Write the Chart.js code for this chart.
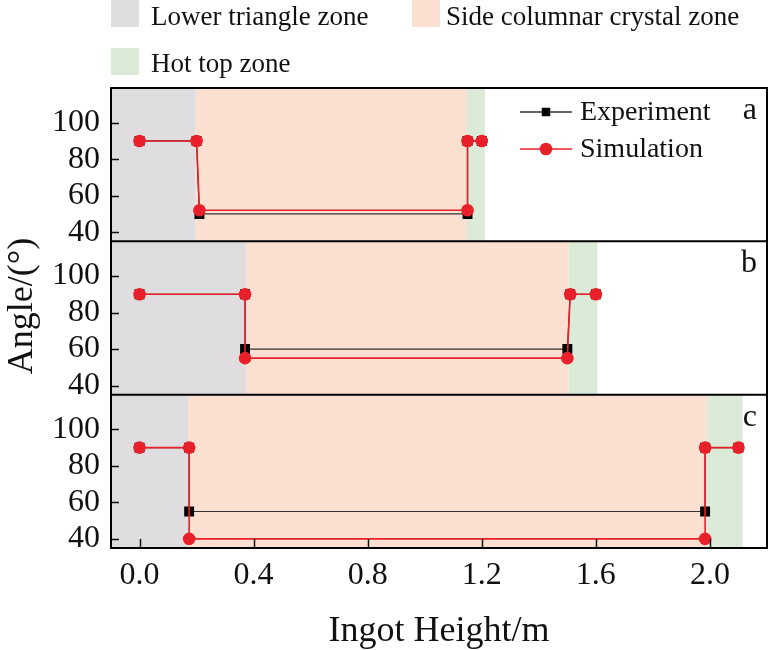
<!DOCTYPE html>
<html>
<head>
<meta charset="utf-8">
<script src="https://cdn.jsdelivr.net/npm/chart.js@4.4.0/dist/chart.umd.min.js"></script>
<style>
  html, body { margin: 0; padding: 0; background: #fff; }
</style>
</head>
<body>
<canvas id="chart" width="774" height="650"></canvas>
<script>
// Tick labels
const heightTicks = [0, 0.4, 0.8, 1.2, 1.6, 2.0];
const angleTicks = [40, 60, 80, 100];
const panelLabels = ['a', 'b', 'c'];

// Panel a
const expHeightA = [0, 0.2, 0.21, 1.15, 1.15, 1.2];
const expAngleA = [90, 90, 50, 50, 90, 90];
const simHeightA = [0, 0.2, 0.21, 1.15, 1.15, 1.2];
const simAngleA = [90, 90, 52, 52, 90, 90];

// Panel b
const expHeightB = [0, 0.37, 0.37, 1.5, 1.51, 1.6];
const expAngleB = [90, 90, 60, 60, 90, 90];
const simHeightB = [0, 0.37, 0.37, 1.5, 1.51, 1.6];
const simAngleB = [90, 90, 55, 55, 90, 90];

// Panel c
const expHeightC = [0, 0.174, 0.174, 1.983, 1.983, 2.1];
const expAngleC = [90, 90, 55, 55, 90, 90];
const simHeightC = [0, 0.174, 0.174, 1.983, 1.983, 2.1];
const simAngleC = [90, 90, 40, 40, 90, 90];

// Zones (end of each zone in m, per panel a, b, c)
const zoneNames = ['Lower triangle zone', 'Side columnar crystal zone', 'Hot top zone'];
const zoneColors = ['#dfdddf', '#fbdfd0', '#dbebd7'];
const lowerEnd = [0.197, 0.375, 0.17];
const sideEnd = [1.148, 1.504, 1.99];
const hotEnd = [1.211, 1.605, 2.114];

const serif = 'Liberation Serif';
const red = '#e8202a';

function toPoints(xs, ys) {
    return xs.map((x, i) => ({ x: x, y: ys[i] }));
}

const expSets = [[expHeightA, expAngleA], [expHeightB, expAngleB], [expHeightC, expAngleC]];
const simSets = [[simHeightA, simAngleA], [simHeightB, simAngleB], [simHeightC, simAngleC]];

const datasets = [];
panelLabels.forEach((p, i) => {
    datasets.push({
        label: 'Simulation',
        data: toPoints(simSets[i][0], simSets[i][1]),
        yAxisID: 'y' + p,
        order: 0,
        borderColor: red,
        backgroundColor: red,
        borderWidth: 1.6,
        pointStyle: 'circle',
        pointRadius: 6.3,
        pointBorderWidth: 0,
        tension: 0
    });
    datasets.push({
        label: 'Experiment',
        data: toPoints(expSets[i][0], expSets[i][1]),
        yAxisID: 'y' + p,
        order: 1,
        borderColor: '#333',
        backgroundColor: '#000',
        borderWidth: 1.2,
        pointStyle: 'rect',
        pointRadius: 7,
        pointBorderWidth: 0,
        tension: 0
    });
});

function angleScale() {
    return {
        type: 'linear',
        position: 'left',
        stack: 'panels',
        stackWeight: 1,
        min: 35,
        max: 119,
        grid: { display: false, drawTicks: false },
        border: { display: false },
        afterBuildTicks: s => { s.ticks = angleTicks.map(v => ({ value: v })); },
        afterFit: s => { s.width = 111; },
        ticks: { font: { family: serif, size: 32 }, color: '#111', padding: 11, autoSkip: false }
    };
}

// Zones behind the lines, frame/ticks/legends on top
const zonePlugin = {
    id: 'zones',
    beforeDatasetsDraw(chart) {
        const ctx = chart.ctx;
        const x = chart.scales.x;
        const area = chart.chartArea;
        panelLabels.forEach((p, i) => {
            const s = chart.scales['y' + p];
            const edges = [area.left, x.getPixelForValue(lowerEnd[i]), x.getPixelForValue(sideEnd[i]), x.getPixelForValue(hotEnd[i])];
            for (let k = 0; k < 3; k++) {
                ctx.fillStyle = zoneColors[k];
                ctx.fillRect(edges[k], s.top, edges[k + 1] - edges[k], s.bottom - s.top);
            }
        });
    },
    afterDatasetsDraw(chart) {
        const ctx = chart.ctx;
        const area = chart.chartArea;
        const x = chart.scales.x;
        ctx.save();
        ctx.strokeStyle = '#111';
        ctx.lineWidth = 1.5;
        // inner ticks
        panelLabels.forEach(p => {
            const s = chart.scales['y' + p];
            angleTicks.forEach(v => {
                const y = Math.round(s.getPixelForValue(v)) + 0.5;
                ctx.beginPath();
                ctx.moveTo(area.left, y);
                ctx.lineTo(area.left + 8, y);
                ctx.stroke();
            });
        });
        heightTicks.forEach(v => {
            const px = Math.round(x.getPixelForValue(v)) + 0.5;
            ctx.beginPath();
            ctx.moveTo(px, area.bottom);
            ctx.lineTo(px, area.bottom - 9);
            ctx.stroke();
        });
        // frame + panel separators
        ctx.lineWidth = 2;
        ctx.strokeStyle = '#000';
        ctx.strokeRect(area.left, area.top, area.right - area.left, area.bottom - area.top);
        ['yb', 'yc'].forEach(id => {
            const t = chart.scales[id].top;
            ctx.beginPath();
            ctx.moveTo(area.left, t);
            ctx.lineTo(area.right, t);
            ctx.stroke();
        });

        // panel letters
        ctx.fillStyle = '#111';
        ctx.font = '32px ' + serif;
        ctx.textAlign = 'right';
        ctx.textBaseline = 'alphabetic';
        panelLabels.forEach(p => {
            const s = chart.scales['y' + p];
            ctx.fillText(p, area.right - 10, s.top + 31);
        });

        // series legend inside panel a
        const lx = area.right - 247;
        const rows = [
            { name: 'Experiment', y: area.top + 24, color: '#333', fill: '#000', style: 'rect', r: 6 },
            { name: 'Simulation', y: area.top + 61, color: red, fill: red, style: 'circle', r: 6.3 }
        ];
        rows.forEach(row => {
            ctx.strokeStyle = row.color;
            ctx.lineWidth = 1.5;
            ctx.beginPath();
            ctx.moveTo(lx, row.y);
            ctx.lineTo(lx + 52, row.y);
            ctx.stroke();
            ctx.fillStyle = row.fill;
            Chart.helpers.drawPoint(ctx, { pointStyle: row.style, radius: row.r, borderWidth: 0 }, lx + 26, row.y);
            ctx.fillStyle = '#111';
            ctx.font = '28px ' + serif;
            ctx.textAlign = 'left';
            ctx.textBaseline = 'middle';
            ctx.fillText(row.name, lx + 60, row.y + 1);
        });

        // zone legend on top
        const items = [
            { x: 111, y: 0, tx: 151, ty: 25 },
            { x: 412, y: 0, tx: 446, ty: 25 },
            { x: 111, y: 48, tx: 151, ty: 72 }
        ];
        items.forEach((it, k) => {
            ctx.fillStyle = zoneColors[k];
            ctx.fillRect(it.x, it.y, 28, 27);
            ctx.fillStyle = '#111';
            ctx.font = '27px ' + serif;
            ctx.textAlign = 'left';
            ctx.textBaseline = 'alphabetic';
            ctx.fillText(zoneNames[k], it.tx, it.ty);
        });

        // axis titles
        ctx.font = '36px ' + serif;
        ctx.textAlign = 'center';
        ctx.textBaseline = 'alphabetic';
        ctx.fillText('Ingot Height/m', (area.left + area.right) / 2, 641);
        ctx.save();
        ctx.translate(32, 306);
        ctx.rotate(-Math.PI / 2);
        ctx.fillText('Angle/(°)', 0, 0);
        ctx.restore();
        ctx.restore();
    }
};

new Chart(document.getElementById('chart'), {
    type: 'line',
    data: { datasets: datasets },
    options: {
        responsive: false,
        animation: false,
        devicePixelRatio: 1,
        layout: { padding: { top: 88, right: 5, left: 0, bottom: 0 } },
        plugins: { legend: { display: false }, tooltip: { enabled: false } },
        scales: {
            x: {
                type: 'linear',
                min: -0.1,
                max: 2.2,
                grid: { display: false, drawTicks: false },
                border: { display: false },
                afterBuildTicks: s => { s.ticks = heightTicks.map(v => ({ value: v })); },
                afterFit: s => { s.height = 102; },
                ticks: {
                    font: { family: serif, size: 32 },
                    color: '#111',
                    padding: 8,
                    maxRotation: 0,
                    autoSkip: false,
                    callback: v => v.toFixed(1)
                }
            },
            // stacked panels: last listed is drawn at the top
            yc: angleScale(),
            yb: angleScale(),
            ya: angleScale()
        }
    },
    plugins: [zonePlugin]
});
</script>
</body>
</html>
